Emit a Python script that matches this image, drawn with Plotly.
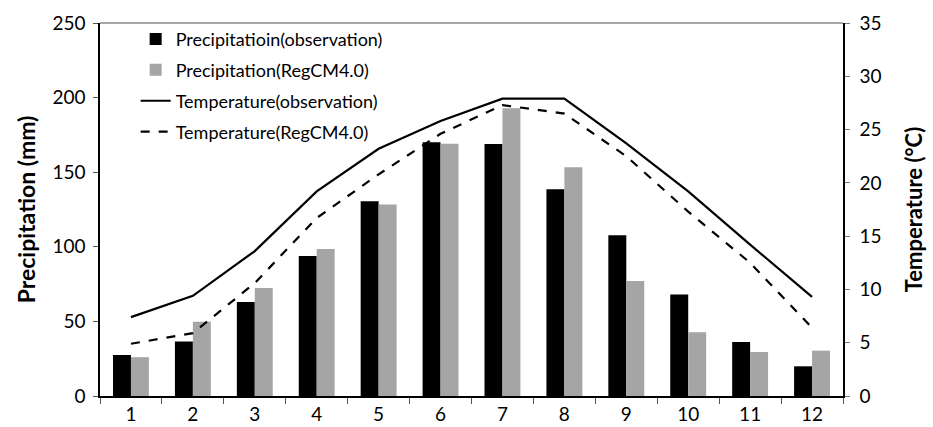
import plotly.graph_objects as go

months = ["1", "2", "3", "4", "5", "6", "7", "8", "9", "10", "11", "12"]
precip_obs = [27.5, 36.6, 63, 93.8, 130.5, 170, 168.9, 138.5, 107.7, 68.1, 36.2, 19.9]
precip_reg = [26, 49.8, 72.4, 98.5, 128.3, 169.1, 192.8, 153.3, 77.1, 42.7, 29.5, 30.4]
temp_obs = [7.4, 9.4, 13.6, 19.2, 23.2, 25.8, 27.9, 27.9, 23.7, 19.2, 14.2, 9.3]
temp_reg = [4.9, 5.9, 10.6, 16.7, 20.8, 24.6, 27.3, 26.5, 22.5, 17.3, 12.5, 6.4]

FONT = "Lato"

fig = go.Figure()
fig.add_trace(go.Bar(x=months, y=precip_obs, name="Precipitatioin(observation)",
                     marker=dict(color="#000000", line=dict(width=0)), legendgroup="a"))
fig.add_trace(go.Bar(x=months, y=precip_reg, name="Precipitation(RegCM4.0)",
                     marker=dict(color="#a5a5a5", line=dict(width=0)), legendgroup="b"))
fig.add_trace(go.Scatter(x=months, y=temp_obs, name="Temperature(observation)", yaxis="y2",
                         mode="lines", line=dict(color="#000000", width=2.2), legendgroup="c"))
fig.add_trace(go.Scatter(x=months, y=temp_reg, name="Temperature(RegCM4.0)", yaxis="y2",
                         mode="lines", line=dict(color="#000000", width=2.2, dash="dash"), legendgroup="d"))

fig.update_layout(
    width=933, height=427,
    margin=dict(l=100, r=90, t=23, b=31),
    paper_bgcolor="white", plot_bgcolor="white",
    font=dict(family=FONT, size=18, color="#000000"),
    barmode="group", bargap=0.42, bargroupgap=0,
    showlegend=True,
    legend=dict(x=0.048, y=1.006, xanchor="left", yanchor="top",
                bgcolor="rgba(0,0,0,0)", font=dict(size=18, family=FONT),
                tracegroupgap=4.5, traceorder="grouped", itemwidth=30),
    xaxis=dict(type="category", showline=True, linecolor="#000000", linewidth=1.5,
               ticks="outside", tickson="boundaries", ticklen=6, tickcolor="#555555",
               showgrid=False, automargin=False, tickfont=dict(size=19, family=FONT)),
    yaxis=dict(range=[0, 250], dtick=50, showline=True, linecolor="#000000", linewidth=1.5,
               ticks="outside", ticklen=5, tickcolor="#555555", showgrid=False, zeroline=False,
               automargin=False, tickfont=dict(size=19, family=FONT), ticklabelstandoff=4,
               title=dict(text="<b>Precipitation (mm)</b>", font=dict(size=23, family=FONT), standoff=10)),
    yaxis2=dict(range=[0, 35], dtick=5, overlaying="y", side="right", showline=True,
                linecolor="#000000", linewidth=1.5, ticks="outside", ticklen=5, tickcolor="#777777",
                showgrid=False, zeroline=False, automargin=False, tickfont=dict(size=19, family=FONT),
                ticklabelstandoff=6,
                title=dict(text="<b>Temperature (°C)</b>", font=dict(size=22, family=FONT), standoff=26)),
    shapes=[dict(type="line", xref="paper", yref="paper", x0=0, x1=1, y0=1, y1=1,
                 line=dict(color="#8a8a8a", width=1.5))],
)

fig.write_html("out.html")
